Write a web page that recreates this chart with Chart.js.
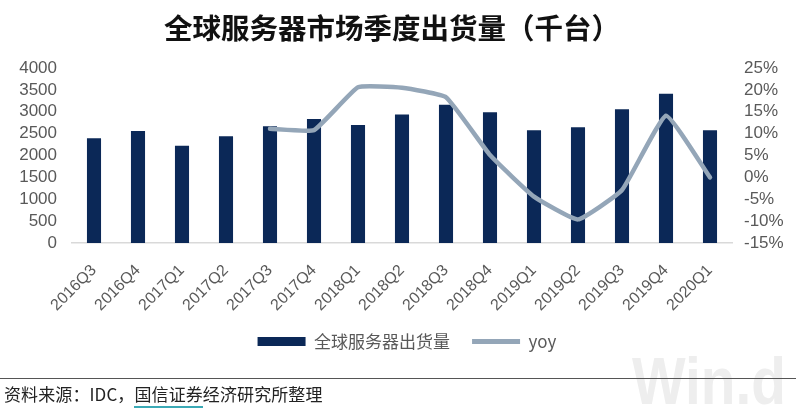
<!DOCTYPE html>
<html>
<head>
<meta charset="utf-8">
<script src="https://cdn.jsdelivr.net/npm/chart.js@4.4.1/dist/chart.umd.min.js"></script>
<style>
  html, body { margin:0; padding:0; background:#fff; }
  #wrap { position:relative; width:796px; height:409px; overflow:hidden; }
  #c { position:absolute; left:0; top:0; }
  #title { position:absolute; left:0; width:784px; top:8px; text-align:center;
    font-family:"Noto Sans CJK SC", sans-serif; font-weight:bold; font-size:28.5px; color:#111; line-height:38px; }
  #rule { position:absolute; left:0; top:378px; width:796px; height:0; border-top:1.5px solid #555; }
  #src { position:absolute; left:4px; top:382px; font-family:"Noto Sans CJK SC", sans-serif; font-size:17px; color:#222; line-height:24px; letter-spacing:0.1px; }
  #src u { text-decoration:none; border-bottom:2px solid #3aa9b5; }
  #wm { position:absolute; left:632px; top:346px; font-family:"Liberation Sans", Arial, sans-serif; font-weight:bold;
    font-size:66px; color:#eeeeee; line-height:70px; z-index:0; transform:scaleX(0.86); transform-origin:0 0; }
</style>
</head>
<body>
<div id="wrap">
  <div id="wm">Win.d</div>
  <canvas id="c" width="796" height="409"></canvas>
  <div id="title">全球服务器市场季度出货量（千台）</div>
  <div id="rule"></div>
  <div id="src">资料来源：IDC，<u>国信证券</u>经济研究所整理</div>
</div>
<script>
const categories = ["2016Q3","2016Q4","2017Q1","2017Q2","2017Q3","2017Q4","2018Q1","2018Q2","2018Q3","2018Q4","2019Q1","2019Q2","2019Q3","2019Q4","2020Q1"];
const shipments = [2395, 2560, 2225, 2440, 2670, 2835, 2695, 2935, 3160, 2990, 2580, 2645, 3060, 3410, 2580];
const yoy = [null, null, null, null, 11.1, 10.8, 20.6, 20.5, 18.3, 5.1, -4.4, -9.6, -2.9, 14.1, 0.0];
const leftTicks = [0, 500, 1000, 1500, 2000, 2500, 3000, 3500, 4000];
const rightTicks = [-15, -10, -5, 0, 5, 10, 15, 20, 25];

const tickFont = { family: "'Liberation Sans', Arial, sans-serif", size: 17 };
const tickColor = "#595959";

const shiftLegend = {
  id: 'shiftLegend',
  afterLayout(chart) {
    if (chart.legend) { chart.legend.left += 9; chart.legend.right += 9; }
  }
};

new Chart(document.getElementById('c'), {
  data: {
    labels: categories,
    datasets: [
      { type: 'bar', label: '全球服务器出货量', data: shipments, yAxisID: 'y',
        backgroundColor: '#0b2857', borderWidth: 0, barPercentage: 0.32, categoryPercentage: 1, order: 1 },
      { type: 'line', label: 'yoy', data: yoy, yAxisID: 'y1',
        borderColor: '#94a6b8', backgroundColor: '#94a6b8', borderWidth: 4.5, pointRadius: 0,
        tension: 0.12, spanGaps: false, order: 0, borderCapStyle: 'round', borderJoinStyle: 'round' }
    ]
  },
  plugins: [shiftLegend],
  options: {
    responsive: false, animation: false,
    layout: { padding: { top: 68, left: 0, right: 0, bottom: 49 } },
    plugins: {
      title: { display: false },
      tooltip: { enabled: false },
      legend: {
        position: 'bottom',
        labels: {
          usePointStyle: true, pointStyleWidth: 48, boxHeight: 9, padding: 22,
          font: { family: "'Noto Sans CJK SC', sans-serif", size: 17 }, color: tickColor,
          sort: (a, b) => a.datasetIndex - b.datasetIndex,
          generateLabels: (chart) => {
            const items = Chart.defaults.plugins.legend.labels.generateLabels(chart);
            items.forEach(it => {
              if (it.datasetIndex === 0) { it.pointStyle = 'rect'; it.lineWidth = 0; }
              else { it.pointStyle = 'line'; it.lineWidth = 5; it.strokeStyle = '#94a6b8'; }
            });
            return items;
          }
        }
      }
    },
    scales: {
      x: {
        offset: true,
        grid: { display: false, drawTicks: false },
        border: { display: true, color: '#d9d9d9', width: 1.5 },
        ticks: { font: { family: "'Liberation Sans', Arial, sans-serif", size: 16 }, color: tickColor,
          minRotation: 45, maxRotation: 45, padding: 18, autoSkip: false },
        afterFit: (s) => { s.height = 68; }
      },
      y: {
        position: 'left', min: 0, max: 4000,
        grid: { display: false, drawTicks: false }, border: { display: false },
        afterBuildTicks: (s) => { s.ticks = leftTicks.map(v => ({ value: v })); },
        ticks: { font: tickFont, color: tickColor, padding: 15, autoSkip: false, callback: (v) => String(v) },
        afterFit: (s) => { s.width = 72; }
      },
      y1: {
        position: 'right', min: -15, max: 25,
        grid: { display: false, drawTicks: false }, border: { display: false },
        afterBuildTicks: (s) => { s.ticks = rightTicks.map(v => ({ value: v })); },
        ticks: { font: tickFont, color: tickColor, padding: 12, autoSkip: false, callback: (v) => v + '%' },
        afterFit: (s) => { s.width = 64; }
      }
    }
  }
});
</script>
</body>
</html>
